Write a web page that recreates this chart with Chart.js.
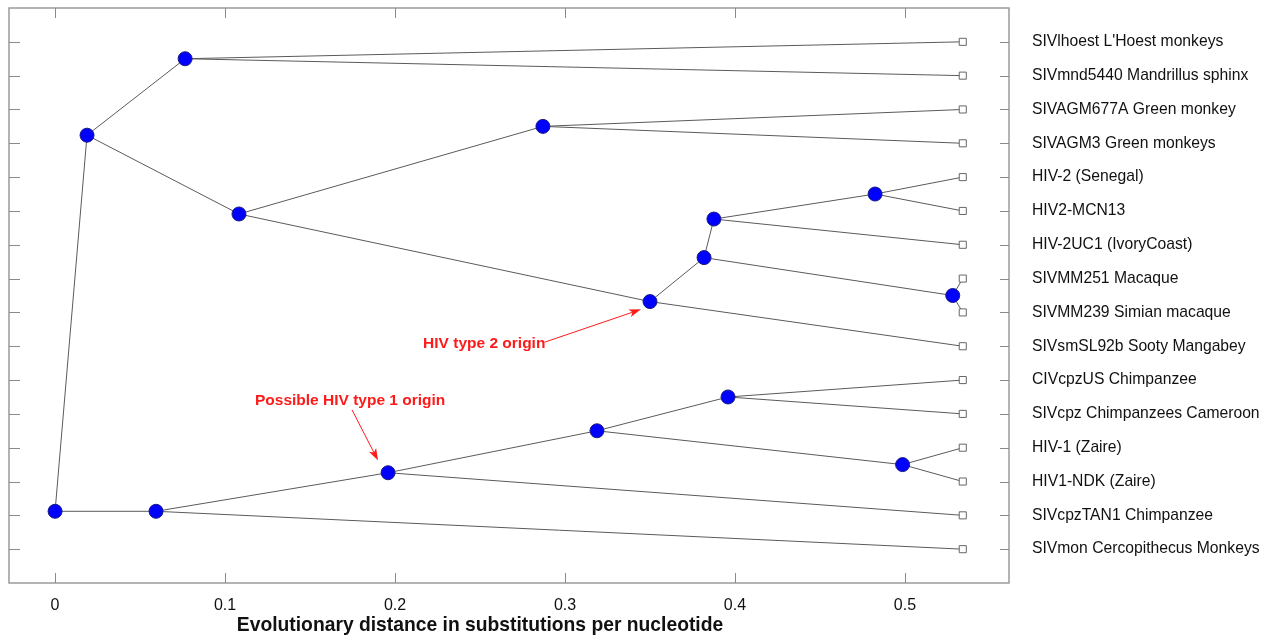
<!DOCTYPE html>
<html>
<head>
<meta charset="utf-8">
<script src="https://cdn.jsdelivr.net/npm/chart.js@4.4.1/dist/chart.umd.min.js"></script>
<style>
  html, body { margin: 0; padding: 0; background: #fff; }
  #wrap { width: 1273px; height: 638px; position: relative; }
</style>
</head>
<body>
<div id="wrap"><canvas id="tree"></canvas></div>
<script>
// leaf taxa, top to bottom (row 1..16)
const leafLabels = [
  "SIVlhoest L'Hoest monkeys",
  'SIVmnd5440 Mandrillus sphinx',
  'SIVAGM677A Green monkey',
  'SIVAGM3 Green monkeys',
  'HIV-2 (Senegal)',
  'HIV2-MCN13',
  'HIV-2UC1 (IvoryCoast)',
  'SIVMM251 Macaque',
  'SIVMM239 Simian macaque',
  'SIVsmSL92b Sooty Mangabey',
  'CIVcpzUS Chimpanzee',
  'SIVcpz Chimpanzees Cameroon',
  'HIV-1 (Zaire)',
  'HIV1-NDK (Zaire)',
  'SIVcpzTAN1 Chimpanzee',
  'SIVmon Cercopithecus Monkeys'
];
const leafDist = [0.534, 0.534, 0.534, 0.534, 0.534, 0.534, 0.534, 0.534,
                  0.534, 0.534, 0.534, 0.534, 0.534, 0.534, 0.534, 0.534];
const leafRow = [1, 2, 3, 4, 5, 6, 7, 8, 9, 10, 11, 12, 13, 14, 15, 16];

// internal nodes
const nodeIds  = ['root', 'B', 'A', 'C', 'D', 'E', 'F', 'G', 'H', 'J', 'I', 'K', 'L', 'M', 'N'];
const nodeDist = [0, 0.0594, 0.0188, 0.0765, 0.1082, 0.287, 0.35, 0.3818, 0.3876, 0.4824, 0.5281, 0.1959, 0.3188, 0.3959, 0.4986];
const nodeRow  = [14.88, 14.88, 3.76, 1.5, 6.09, 3.5, 8.68, 7.38, 6.24, 5.5, 8.5, 13.74, 12.5, 11.5, 13.5];

// branches (leaf ids are 'L' + row)
const edgeFrom = ['root', 'root', 'A', 'C', 'C', 'A', 'D', 'E', 'E', 'D', 'F', 'F', 'G', 'G', 'I',
                  'I', 'H', 'H', 'J', 'J', 'B', 'B', 'K', 'K', 'L', 'L', 'M', 'M', 'N', 'N'];
const edgeTo   = ['A', 'B', 'C', 'L1', 'L2', 'D', 'E', 'L3', 'L4', 'F', 'G', 'L10', 'H', 'I', 'L8',
                  'L9', 'J', 'L7', 'L5', 'L6', 'K', 'L16', 'L', 'L15', 'M', 'N', 'L11', 'L12', 'L13', 'L14'];

const xTicks = [0, 0.1, 0.2, 0.3, 0.4, 0.5];
const xTitle = 'Evolutionary distance in substitutions per nucleotide';

const notes = [
  { text: 'HIV type 2 origin', x: 0.2165, y: 9.94, from: [0.288, 9.88], to: [0.3447, 8.91] },
  { text: 'Possible HIV type 1 origin', x: 0.1176, y: 11.62, from: [0.1747, 11.88], to: [0.19, 13.38] }
];

function pos(id) {
  if (id[0] === 'L' && id.length > 1 && !isNaN(+id.slice(1))) {
    const i = +id.slice(1) - 1;
    return { x: leafDist[i], y: leafRow[i] };
  }
  const j = nodeIds.indexOf(id);
  return { x: nodeDist[j], y: nodeRow[j] };
}

const edgeSets = edgeFrom.map((f, i) => ({
  type: 'line',
  data: [pos(f), pos(edgeTo[i])],
  borderColor: '#5a5a5a',
  borderWidth: 1,
  pointRadius: 0,
  showLine: true,
  order: 3
}));

const font = "'Liberation Sans', Arial, sans-serif";

// no extra room for edge labels, the box is fixed
const noPad = s => { s.paddingTop = 0; s.paddingBottom = 0; s.paddingLeft = 0; s.paddingRight = 0; };

const framePlugin = {
  id: 'frame',
  beforeDatasetsDraw(chart) {
    const { ctx, chartArea: a } = chart;
    const xs = chart.scales.x, ys = chart.scales.y;
    ctx.save();
    ctx.strokeStyle = '#9a9a9a';
    ctx.lineWidth = 1.5;
    ctx.strokeRect(a.left, a.top, a.right - a.left, a.bottom - a.top);
    ctx.lineWidth = 1;
    ctx.strokeStyle = '#8a8a8a';
    ctx.beginPath();
    leafRow.forEach(r => {
      const y = Math.round(ys.getPixelForValue(r)) + 0.5;
      ctx.moveTo(a.left, y); ctx.lineTo(a.left + 11, y);
      ctx.moveTo(a.right - 9, y); ctx.lineTo(a.right, y);
    });
    xTicks.forEach(v => {
      const x = Math.round(xs.getPixelForValue(v)) + 0.5;
      ctx.moveTo(x, a.bottom); ctx.lineTo(x, a.bottom - 10);
      ctx.moveTo(x, a.top); ctx.lineTo(x, a.top + 10);
    });
    ctx.stroke();
    ctx.restore();
  },
  afterDraw(chart) {
    const { ctx } = chart;
    const xs = chart.scales.x, ys = chart.scales.y;
    ctx.save();
    ctx.fillStyle = '#111';
    ctx.font = 'bold 19.3px ' + font;
    ctx.textAlign = 'center';
    ctx.textBaseline = 'middle';
    ctx.fillText(xTitle, xs.getPixelForValue(0.25), 626);

    ctx.fillStyle = '#ff1a1a';
    ctx.strokeStyle = '#ff1a1a';
    ctx.font = 'bold 15.5px ' + font;
    ctx.textAlign = 'left';
    notes.forEach(n => {
      ctx.fillText(n.text, xs.getPixelForValue(n.x), ys.getPixelForValue(n.y));
      const x1 = xs.getPixelForValue(n.from[0]), y1 = ys.getPixelForValue(n.from[1]);
      const x2 = xs.getPixelForValue(n.to[0]), y2 = ys.getPixelForValue(n.to[1]);
      const ang = Math.atan2(y2 - y1, x2 - x1);
      ctx.lineWidth = 1;
      ctx.beginPath();
      ctx.moveTo(x1, y1);
      ctx.lineTo(x2 - 8 * Math.cos(ang), y2 - 8 * Math.sin(ang));
      ctx.stroke();
      ctx.beginPath();
      ctx.moveTo(x2, y2);
      ctx.lineTo(x2 - 12 * Math.cos(ang) + 4 * Math.sin(ang), y2 - 12 * Math.sin(ang) - 4 * Math.cos(ang));
      ctx.lineTo(x2 - 9 * Math.cos(ang), y2 - 9 * Math.sin(ang));
      ctx.lineTo(x2 - 12 * Math.cos(ang) - 4 * Math.sin(ang), y2 - 12 * Math.sin(ang) + 4 * Math.cos(ang));
      ctx.closePath();
      ctx.fill();
    });
    ctx.restore();
  }
};

new Chart(document.getElementById('tree'), {
  type: 'scatter',
  data: {
    datasets: [
      {
        data: nodeIds.map((id, i) => ({ x: nodeDist[i], y: nodeRow[i] })),
        pointRadius: 7,
        backgroundColor: '#0000ff',
        borderColor: '#1a1a80',
        borderWidth: 1,
        order: 1
      },
      {
        data: leafRow.map((r, i) => ({ x: leafDist[i], y: r })),
        pointStyle: 'rect',
        pointRadius: 5,
        backgroundColor: '#fff',
        borderColor: '#666',
        borderWidth: 1,
        order: 2
      },
      ...edgeSets
    ]
  },
  options: {
    responsive: true,
    maintainAspectRatio: false,
    animation: false,
    layout: { padding: { top: 5, left: 0, right: 0, bottom: 0 } },
    plugins: { legend: { display: false }, tooltip: { enabled: false } },
    scales: {
      x: {
        type: 'linear',
        position: 'bottom',
        min: -0.0271,
        max: 0.5612,
        afterBuildTicks: s => { s.ticks = xTicks.map(v => ({ value: v })); },
        afterFit: s => { s.height = 55; noPad(s); },
        grid: { display: false, drawTicks: false },
        border: { display: false },
        ticks: {
          padding: 13,
          color: '#111',
          font: { family: font, size: 16 },
          callback: v => (v === 0 ? '0' : v.toFixed(1)),
          maxRotation: 0
        }
      },
      y: {
        type: 'linear',
        position: 'left',
        min: 0,
        max: 17,
        reverse: true,
        afterFit: s => { s.width = 9; noPad(s); },
        grid: { display: false, drawTicks: false },
        border: { display: false },
        ticks: { display: false }
      },
      y2: {
        type: 'linear',
        position: 'right',
        min: 0,
        max: 17,
        reverse: true,
        afterBuildTicks: s => { s.ticks = leafRow.map(v => ({ value: v })); },
        afterFit: s => { s.width = 264; noPad(s); },
        grid: { display: false, drawTicks: false },
        border: { display: false },
        ticks: {
          padding: 23,
          crossAlign: 'near',
          color: '#111',
          font: { family: font, size: 15.7 },
          callback: v => leafLabels[v - 1] || ''
        }
      }
    }
  },
  plugins: [framePlugin]
});
</script>
</body>
</html>
